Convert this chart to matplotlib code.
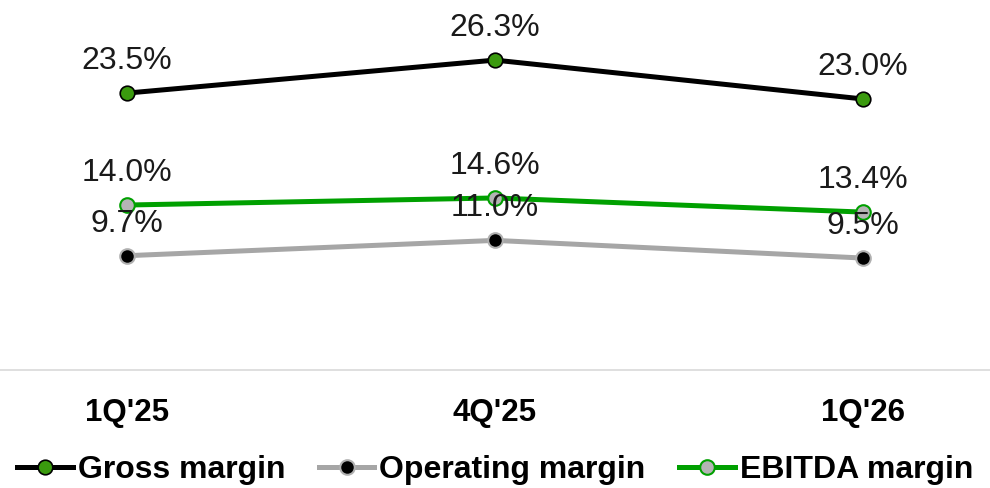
import numpy as np
import matplotlib.pyplot as plt

plt.rcParams['font.family'] = ['Liberation Sans', 'DejaVu Sans']

quarters = ["1Q'25", "4Q'25", "1Q'26"]
gross_margin = [23.5, 26.3, 23.0]
operating_margin = [9.7, 11.0, 9.5]
ebitda_margin = [14.0, 14.6, 13.4]

fig = plt.figure(figsize=(9.9, 4.88), dpi=100)
ax = fig.add_axes([0, 0.2418, 1, 0.7582])

x = np.arange(len(quarters))
lw = 3.6
ms = 10.5

ax.plot(x, gross_margin, color="black", lw=lw, marker="o", ms=ms,
        mfc="#3a9a0e", mec="black", mew=1.2, label="Gross margin", zorder=3)
ax.plot(x, operating_margin, color="#a6a6a6", lw=lw, marker="o", ms=ms,
        mfc="black", mec="#b0b0b0", mew=1.5, label="Operating margin", zorder=3)
ax.plot(x, ebitda_margin, color="#00a000", lw=lw, marker="o", ms=ms,
        mfc="#b4b4b4", mec="#00a000", mew=1.5, label="EBITDA margin", zorder=3)

for series in (gross_margin, ebitda_margin, operating_margin):
    for xi, v in zip(x, series):
        ax.annotate(f"{v:.1f}%", (xi, v), xytext=(0, 23), textcoords="offset points",
                    ha="center", va="center", fontsize=23, color="#1a1a1a", zorder=4)

ax.set_xlim(-0.345, 2.345)
ax.set_ylim(0, 31.4)
ax.set_xticks(x)
ax.set_xticklabels(quarters, fontsize=22.5, fontweight="bold")
ax.tick_params(axis="x", length=0, pad=20)
ax.set_yticks([])
for side in ("top", "left", "right"):
    ax.spines[side].set_visible(False)
ax.spines["bottom"].set_color("#d9d9d9")
ax.spines["bottom"].set_linewidth(1.2)

fig.legend(loc="center", bbox_to_anchor=(0.5, 0.037), ncol=3, frameon=False,
           prop={"size": 23, "weight": "bold"}, handlelength=1.75,
           handletextpad=0.15, columnspacing=1.05, borderpad=0, borderaxespad=0)

fig.savefig("out.png", dpi=100)
